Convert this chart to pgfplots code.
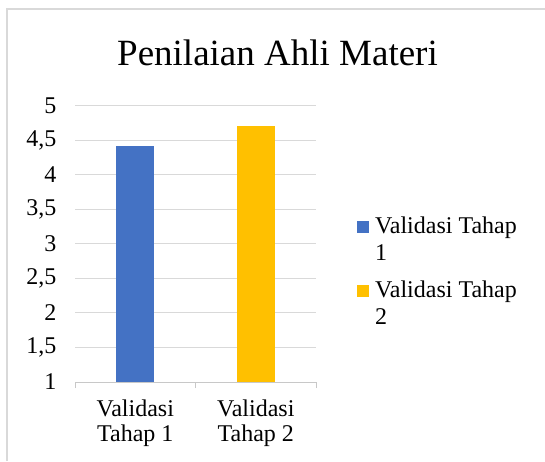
\documentclass[border=0pt]{standalone}
\usepackage{pgfplots}
\pgfplotsset{compat=1.18}
\usepackage{fontspec}
\setmainfont{Liberation Serif}
\definecolor{cblue}{HTML}{4472C4}
\definecolor{cgold}{HTML}{FFC000}
\definecolor{cgrid}{HTML}{D9D9D9}
\definecolor{caxis}{HTML}{C8C8C8}
\begin{document}
\begin{tikzpicture}[x=1pt,y=1pt]
\path[use as bounding box] (0,0) rectangle (545,461);
\draw[cgrid, line width=1.5pt] (7,0) -- (7,452) -- (545,452);
\node[anchor=base, font=\fontsize{37}{40}\selectfont, inner sep=0pt] at (277.5,395) {Penilaian Ahli Materi};
\begin{axis}[
  at={(75pt,79pt)}, anchor=south west, scale only axis,
  width=241pt, height=276.3pt,
  xmin=-0.5, xmax=1.5, ymin=1, ymax=5,
  ytick={1,1.5,2,2.5,3,3.5,4,4.5,5},
  xtick={0,1},
  xticklabels={{Validasi\\Tahap 1},{Validasi\\Tahap 2}},
  minor xtick={-0.5,0.5,1.5},
  tick align=outside,
  major tick length=0pt,
  minor tick length=6pt,
  minor tick style={caxis, line width=1pt},
  axis x line=bottom, axis y line=left,
  x axis line style={-, draw=caxis, line width=1pt},
  y axis line style={draw=none},
  ymajorgrids, grid style={cgrid, line width=1pt},
  /pgf/number format/assume math mode=true,
  /pgf/number format/use comma,
  tick label style={font=\fontsize{24}{25}\selectfont},
  yticklabel style={anchor=east, xshift=-15pt},
  xticklabel style={align=center, anchor=north, yshift=-14pt},
  ybar, bar width=38pt,
  legend image code/.code={\fill[#1] (0pt,6pt) rectangle (12pt,18pt);},
  legend cell align=left,
  legend style={at={(1.17,0.600)}, anchor=north west, draw=none, fill=none,
    inner sep=0pt, row sep=19pt, column sep=6pt,
    nodes={inner sep=0pt, align=left, font=\fontsize{24}{27}\selectfont}},
]
\addplot[bar shift=0pt, fill=cblue, draw=none] coordinates {(0,4.42)};
\addplot[bar shift=0pt, fill=cgold, draw=none] coordinates {(1,4.71)};
\legend{{Validasi Tahap\\1},{Validasi Tahap\\2}}
\end{axis}
\end{tikzpicture}
\end{document}
